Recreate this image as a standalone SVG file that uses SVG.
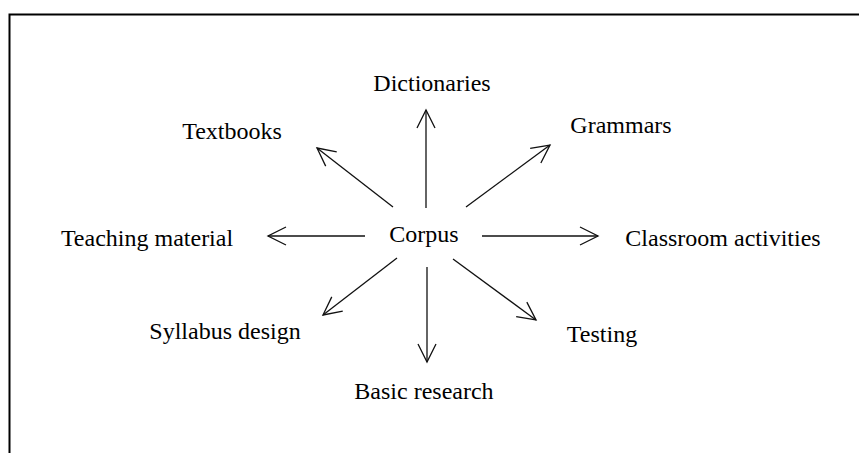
<svg xmlns="http://www.w3.org/2000/svg" width="859" height="453" viewBox="0 0 859 453">
<style>
.frame{fill:none;stroke:#000;stroke-width:2}
.conn{fill:none;stroke:#111;stroke-width:1.3;marker-end:url(#arr)}
text{font-family:"Liberation Serif","Times New Roman",serif;font-size:24px;fill:#000;text-anchor:middle}
</style>
<defs>
<marker id="arr" markerUnits="userSpaceOnUse" markerWidth="24" markerHeight="24" viewBox="-20 -12 24 24" refX="0" refY="0" orient="auto">
<path d="M-18,-9 L0,0 L-18,9" fill="none" stroke="#111" stroke-width="1.3"/>
</marker>
</defs>
<rect width="859" height="453" fill="#fff"/>
<path class="frame" d="M9.5,453 V14.5 H859"/>
<g id="connectors">
<line class="conn" x1="426" y1="208" x2="426" y2="110"/>
<line class="conn" x1="393" y1="207" x2="317" y2="148"/>
<line class="conn" x1="466" y1="207" x2="550" y2="145"/>
<line class="conn" x1="365" y1="236" x2="268" y2="236"/>
<line class="conn" x1="482" y1="236" x2="598" y2="236"/>
<line class="conn" x1="397" y1="258" x2="323" y2="315"/>
<line class="conn" x1="427" y1="267" x2="427" y2="362"/>
<line class="conn" x1="453" y1="259" x2="536" y2="320"/>
</g>
<g id="corpus"><text x="424" y="242">Corpus</text></g>
<g id="dictionaries"><text x="432" y="91">Dictionaries</text></g>
<g id="textbooks"><text x="232" y="139">Textbooks</text></g>
<g id="grammars"><text x="621" y="133">Grammars</text></g>
<g id="teaching"><text x="147" y="246">Teaching material</text></g>
<g id="classroom"><text x="723" y="246">Classroom activities</text></g>
<g id="syllabus"><text x="225" y="339">Syllabus design</text></g>
<g id="research"><text x="424" y="399">Basic research</text></g>
<g id="testing"><text x="602" y="342">Testing</text></g>
</svg>
